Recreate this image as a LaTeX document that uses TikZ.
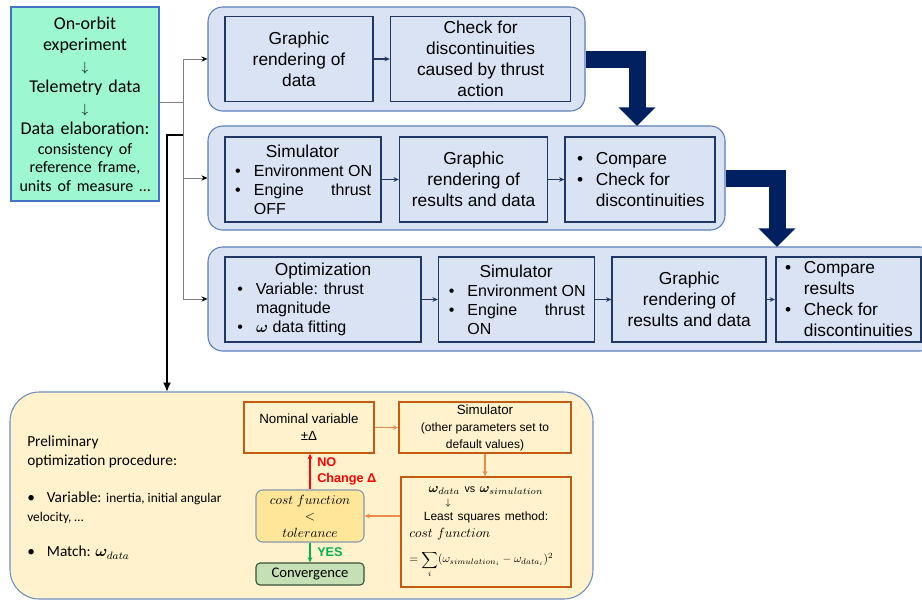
\documentclass[tikz,border=0pt]{standalone}
\usepackage{fontspec}
\usepackage{amsmath,bm,graphicx}
\setmainfont{Liberation Sans}
\newfontfamily\calib{Carlito}
\usetikzlibrary{positioning,arrows.meta}

\definecolor{panelfill}{HTML}{DAE3F3}
\definecolor{panelline}{HTML}{5B7DB8}
\definecolor{navy}{HTML}{203864}
\definecolor{deepnavy}{HTML}{002060}
\definecolor{mint}{HTML}{9DF7CF}
\definecolor{mintline}{HTML}{4472C4}
\definecolor{cream}{HTML}{FFF2CC}
\definecolor{creamline}{HTML}{6C8EBF}
\definecolor{rust}{HTML}{C55A11}
\definecolor{tangerine}{HTML}{EE8A4A}
\definecolor{gold}{HTML}{FFE699}
\definecolor{steel}{HTML}{8497B0}
\definecolor{sage}{HTML}{C5E0B4}
\definecolor{moss}{HTML}{3A513A}
\definecolor{okgreen}{HTML}{00B050}

\newcommand{\bitem}{\makebox[15pt][l]{\hspace{1pt}\textbullet}}
\newcommand{\bpad}{\makebox[15pt]{}}
\newcommand{\darr}{{\fontsize{10}{15.75}\selectfont$\downarrow$}}

\begin{document}
\begin{tikzpicture}[x=0.75pt, y=-0.75pt,
  panel/.style={draw=panelline, fill=panelfill, line width=0.8pt, rounded corners=11pt, inner sep=0pt, minimum height=78pt},
  blk/.style={draw=navy, fill=panelfill, line width=1.2pt, inner sep=0pt, minimum height=63.75pt, align=center, font=\fontsize{13}{15.75}\selectfont},
  lst/.style={blk, align=left, font=\fontsize{12}{14.25}\selectfont},
  flow/.style={navy, line width=0.9pt, -{Stealth[length=4pt,width=3.5pt]}},
  bigarrow/.style={draw=deepnavy, line width=12.75pt, -{Triangle[length=14pt,width=27pt]}},
  feed/.style={draw=gray, line width=0.75pt},
  obox/.style={draw=rust, line width=1.1pt, inner sep=0pt, align=center, font=\fontsize{10}{12.75}\selectfont},
  oarr/.style={tangerine, line width=0.9pt, -{Stealth[length=4pt,width=3.5pt]}}]

  \useasboundingbox (0,0) rectangle (922,601);
  \clip (0,0) rectangle (922,601);

  % 左上：实验数据框
  \node[draw=mintline, fill=mint, line width=0.8pt, inner sep=0pt, minimum width=111pt, minimum height=145.5pt,
        text width=108pt, align=center, font=\calib\fontsize{13.5}{15.75}\selectfont] (exp) at (85,104)
    {On-orbit\\experiment\\\darr\\Telemetry data\\\darr\\Data elaboration:\par\vspace{1pt}
     {\fontsize{12}{14}\selectfont consistency of\\reference frame,\\units of measure …\par}};

  % 三个蓝色面板
  \node[panel, minimum width=282.75pt] (p1) at (396.5,59) {};
  \node[panel, minimum width=387.75pt] (p2) at (466.5,178) {};
  \node[panel, minimum width=545.25pt] (p3) at (571.5,299) {};

  % 面板 1
  \node[blk, minimum width=111pt] (g1) at (299,59) {Graphic\\rendering of\\data};
  \node[blk, minimum width=135pt, right=12pt of g1] (c1) {Check for\\discontinuities\\caused by thrust\\action};
  \draw[flow] (g1.east) -- (c1.west);

  % 面板 2
  \node[lst, minimum width=117pt] (s2) at (303,179.5)
    {\makebox[103pt]{\fontsize{13}{15}\selectfont Simulator}\\
     \bitem Environment ON\\
     \bitem\hbox to 88pt{Engine\hfil thrust}\\
     \bpad OFF};
  \node[blk, minimum width=111pt, right=12.75pt of s2] (g2) {Graphic\\rendering of\\results and data};
  \node[lst, minimum width=112.5pt, right=12pt of g2, font=\fontsize{13}{15.75}\selectfont] (c2)
    {\bitem Compare\\\bitem Check for\\\bpad discontinuities};
  \draw[flow] (s2.east) -- (g2.west);
  \draw[flow] (g2.east) -- (c2.west);

  % 面板 3
  \node[lst, minimum width=147pt] (o3) at (323,299.5)
    {\makebox[130.5pt]{\fontsize{13}{15}\selectfont Optimization}\\
     \bitem Variable: thrust\\
     \bpad magnitude\\
     \bitem $\bm{\omega}$ data fitting};
  \node[lst, minimum width=117pt, right=12pt of o3] (s3)
    {\makebox[103pt]{\fontsize{13}{15}\selectfont Simulator}\\
     \bitem Environment ON\\
     \bitem\hbox to 88pt{Engine\hfil thrust}\\
     \bpad ON};
  \node[blk, minimum width=115.5pt, right=12pt of s3] (g3) {Graphic\\rendering of\\results and data};
  \node[lst, minimum width=108.75pt, right=6pt of g3, font=\fontsize{13}{15.75}\selectfont] (c3)
    {\bitem Compare\\\bpad results\\\bitem Check for\\\bpad discontinuities};
  \draw[flow] (o3.east) -- (s3.west);
  \draw[flow] (s3.east) -- (g3.west);
  \draw[flow] (g3.east) -- (c3.west);

  % 面板之间的粗箭头
  \coordinate (t1) at (637,126);
  \coordinate (t2) at (777,247);
  \draw[bigarrow] (p1.east) -| (t1);
  \draw[bigarrow] (p2.east) -| (t2);

  % 左侧分支线
  \coordinate (bus) at (183,102);
  \draw[feed] (exp.east |- bus) -- (bus);
  \foreach \p in {p1,p2,p3}
    \draw[feed, -{Stealth[length=4.5pt,width=4pt,black]}] (bus) |- (\p.west);

  % 底部面板
  \node[draw=creamline, fill=cream, line width=0.8pt, rounded corners=22pt, inner sep=0pt,
        minimum width=437.25pt, minimum height=155.25pt] (bot) at (301.5,495.5) {};
  \coordinate (tap) at (183,135);
  \coordinate (drop) at (167,392);
  \draw[black, line width=1.5pt, -{Latex[length=7pt,width=6pt]}] (tap) -| (drop);

  \node[anchor=west, align=left, inner sep=0pt, font=\calib\fontsize{11.5}{14.25}\selectfont] (proc) at (27,497.5)
    {Preliminary\\optimization procedure:\\[13.5pt]
     \textbullet\hspace{9pt}Variable: {\fontsize{10}{12}\selectfont inertia, initial angular}\\
     {\fontsize{10}{12}\selectfont velocity, …}\\[12pt]
     \textbullet\hspace{9pt}Match: $\bm{\omega}_{data}$};

  % 优化循环
  \node[obox, minimum width=97.5pt, minimum height=38.25pt] (nom) at (309,427.5) {Nominal variable\\±Δ};
  \node[obox, minimum width=129pt, minimum height=38.25pt] (sim) at (485,427.5)
    {Simulator\\{\fontsize{9}{11}\selectfont (other parameters set to}\\{\fontsize{9}{11}\selectfont default values)}};
  \node[obox, minimum width=127.5pt, minimum height=82.5pt, text width=115pt, align=left] (res) at (486,532)
    {\centerline{$\bm{\omega}_{data}$ {\fontsize{8}{9}\selectfont vs} $\bm{\omega}_{simulation}$}\vspace{-3pt}
     \centerline{\kern-57pt\scriptsize$\downarrow$}\vspace{-1pt}
     \centerline{\fontsize{9}{11}\selectfont Least squares method:}
     \noindent$cost\ function$\par\vspace{6pt}
     \noindent\resizebox{108pt}{!}{$\displaystyle= \sum_i (\omega_{simulation_i}-\omega_{data_i})^2$}};
  \node[draw=steel, fill=gold, line width=0.8pt, rounded corners=5pt, inner sep=0pt, minimum width=81pt,
        minimum height=39pt, align=center, font=\fontsize{10.3}{12.4}\selectfont] (cost) at (310,516)
    {$cost\ function$\\$<$\\$tolerance$};
  \node[draw=moss, fill=sage, line width=0.8pt, rounded corners=3pt, inner sep=0pt, minimum width=81pt,
        minimum height=16.5pt, font=\calib\fontsize{11}{13}\selectfont] (conv) at (310,574) {Convergence};

  \draw[oarr] (nom.east) -- (sim.west);
  \draw[oarr] (sim.south) -- (sim.south |- res.north);
  \draw[oarr] (cost.east -| res.west) -- (cost.east);
  \draw[red, line width=0.9pt, -{Stealth[length=4pt,width=3.5pt]}] (cost.north) --
    node[right=5pt, inner sep=0pt, align=left, text=red, font=\bfseries\fontsize{9.5}{12}\selectfont] {NO\\Change Δ}
    (cost.north |- nom.south);
  \draw[okgreen, line width=0.9pt, -{Stealth[length=4pt,width=3.5pt]}] (cost.south) --
    node[right=5pt, inner sep=0pt, text=okgreen, font=\bfseries\fontsize{9.5}{12}\selectfont] {YES}
    (conv.north);
\end{tikzpicture}
\end{document}
